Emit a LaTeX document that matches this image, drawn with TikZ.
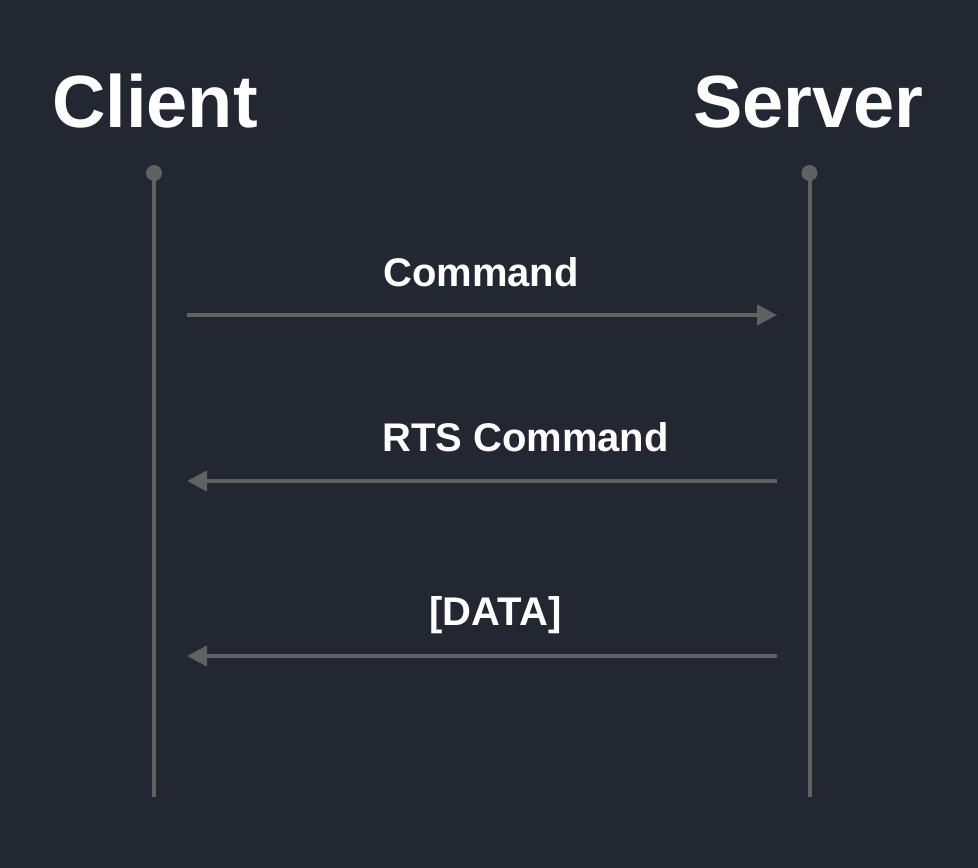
\documentclass[tikz,border=0pt]{standalone}
\usepackage{fontspec}
\setmainfont{Liberation Sans}
\usetikzlibrary{arrows.meta}
\definecolor{bgc}{RGB}{34,39,49}
\definecolor{linec}{RGB}{94,98,97}
\tikzset{
  head/.style={text=white, font=\fontsize{74}{82}\selectfont\bfseries, anchor=base, inner sep=0pt},
  msglabel/.style={text=white, font=\fontsize{40}{46}\selectfont\bfseries, anchor=base, inner sep=0pt},
  lifeline/.style={draw=linec, line width=4pt},
  lifedot/.style={circle, fill=linec, minimum size=16pt, inner sep=0pt},
  msg/.style={draw=linec, line width=4pt, -{Triangle[length=20pt,width=20pt]}}
}
\begin{document}
\begin{tikzpicture}[x=1pt,y=-1pt]
\fill[bgc] (0,0) rectangle (978,868);
\useasboundingbox (0,0) rectangle (978,868);
\node[head] (client) at (155,127) {Client};
\node[head] (server) at (808.5,127) {Server};
\node[lifedot] (cdot) at (154,173) {};
\node[lifedot] (sdot) at (809.5,173) {};
\coordinate (cend) at (154,797);
\coordinate (send) at (809.5,797);
\draw[lifeline] (cdot.center) -- (cend);
\draw[lifeline] (sdot.center) -- (send);
\coordinate (m1a) at (187,315);
\coordinate (m1b) at (777,315);
\coordinate (m2a) at (777,481);
\coordinate (m2b) at (187,481);
\coordinate (m3a) at (777,656);
\coordinate (m3b) at (187,656);
\draw[msg] (m1a) -- (m1b);
\draw[msg] (m2a) -- (m2b);
\draw[msg] (m3a) -- (m3b);
\node[msglabel] (l1) at (481,286) {Command};
\node[msglabel] (l2) at (525.5,451) {RTS Command};
\node[msglabel] (l3) at (495.5,625) {[DATA]};
\end{tikzpicture}
\end{document}
